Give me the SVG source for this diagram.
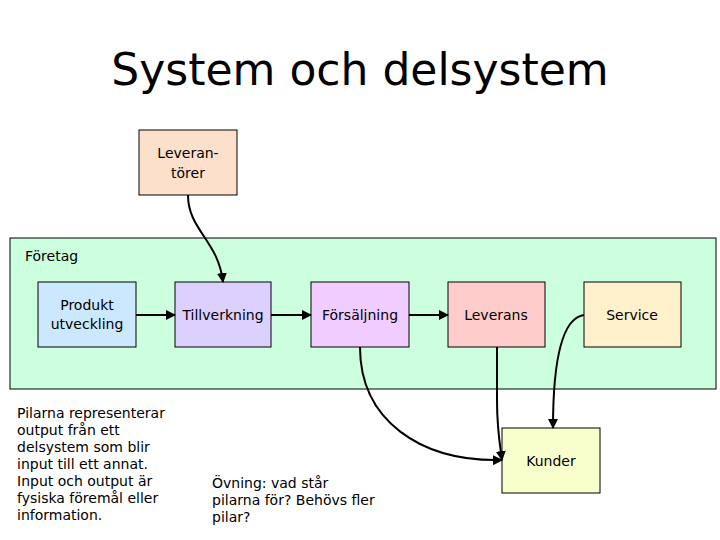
<svg xmlns="http://www.w3.org/2000/svg" width="720" height="540" viewBox="0 0 720 540">
<defs>
<marker id="ah" viewBox="0 0 10 10" refX="9" refY="5" markerWidth="5" markerHeight="5" orient="auto"><path d="M0,0 L10,5 L0,10 z" fill="#000"/></marker>
<style>
text{font-family:"DejaVu Sans",Verdana,sans-serif;font-size:14px;fill:#000}
.b{stroke:#000;stroke-width:1}
.c{fill:none;stroke:#000;stroke-width:2;marker-end:url(#ah)}
</style>
</defs>
<rect width="720" height="540" fill="#fff"/>
<text x="360" y="85" text-anchor="middle" style="font-size:44px">System och delsystem</text>
<g id="foretag"><rect class="b" x="10" y="238" width="706" height="151" fill="#ccffdd"/><text x="25" y="261">Företag</text></g>
<g id="leverantorer"><rect class="b" x="139" y="130" width="98" height="65" fill="#fde0cc"/><text x="188" y="158" text-anchor="middle">Leveran-</text><text x="188" y="178" text-anchor="middle">törer</text></g>
<g id="produkt"><rect class="b" x="38" y="282" width="98" height="65" fill="#cce8ff"/><text x="87" y="310" text-anchor="middle">Produkt</text><text x="87" y="329" text-anchor="middle">utveckling</text></g>
<g id="tillverkning"><rect class="b" x="175" y="282" width="96" height="65" fill="#dcd0ff"/><text x="223" y="320" text-anchor="middle">Tillverkning</text></g>
<g id="forsaljning"><rect class="b" x="311" y="282" width="98" height="65" fill="#f0ccff"/><text x="360" y="320" text-anchor="middle">Försäljning</text></g>
<g id="leverans"><rect class="b" x="448" y="282" width="97" height="65" fill="#ffcccc"/><text x="496" y="320" text-anchor="middle">Leverans</text></g>
<g id="service"><rect class="b" x="584" y="282" width="97" height="65" fill="#fff0cc"/><text x="632" y="320" text-anchor="middle">Service</text></g>
<g id="kunder"><rect class="b" x="502" y="428" width="98" height="65" fill="#f8ffcc"/><text x="551" y="466" text-anchor="middle">Kunder</text></g>
<g id="connectors">
<path class="c" d="M188,195 C188,230 218,240 223,282"/>
<path class="c" d="M136,315 L175,315"/>
<path class="c" d="M271,315 L311,315"/>
<path class="c" d="M409,315 L448,315"/>
<path class="c" d="M360,347 C360,420 420,462 502,460"/>
<path class="c" d="M497,347 L497,400 C497,430 500,445 502,460"/>
<path class="c" d="M584,315 C562,318 553,360 553,428"/>
</g>
<g id="notes">
<text x="17" y="418">Pilarna representerar</text>
<text x="17" y="435">output från ett</text>
<text x="17" y="452">delsystem som blir</text>
<text x="17" y="469">input till ett annat.</text>
<text x="17" y="486">Input och output är</text>
<text x="17" y="503">fysiska föremål eller</text>
<text x="17" y="520">information.</text>
<text x="212" y="488">Övning:  vad står</text>
<text x="212" y="505">pilarna för? Behövs fler</text>
<text x="212" y="522">pilar?</text>
</g>
</svg>
